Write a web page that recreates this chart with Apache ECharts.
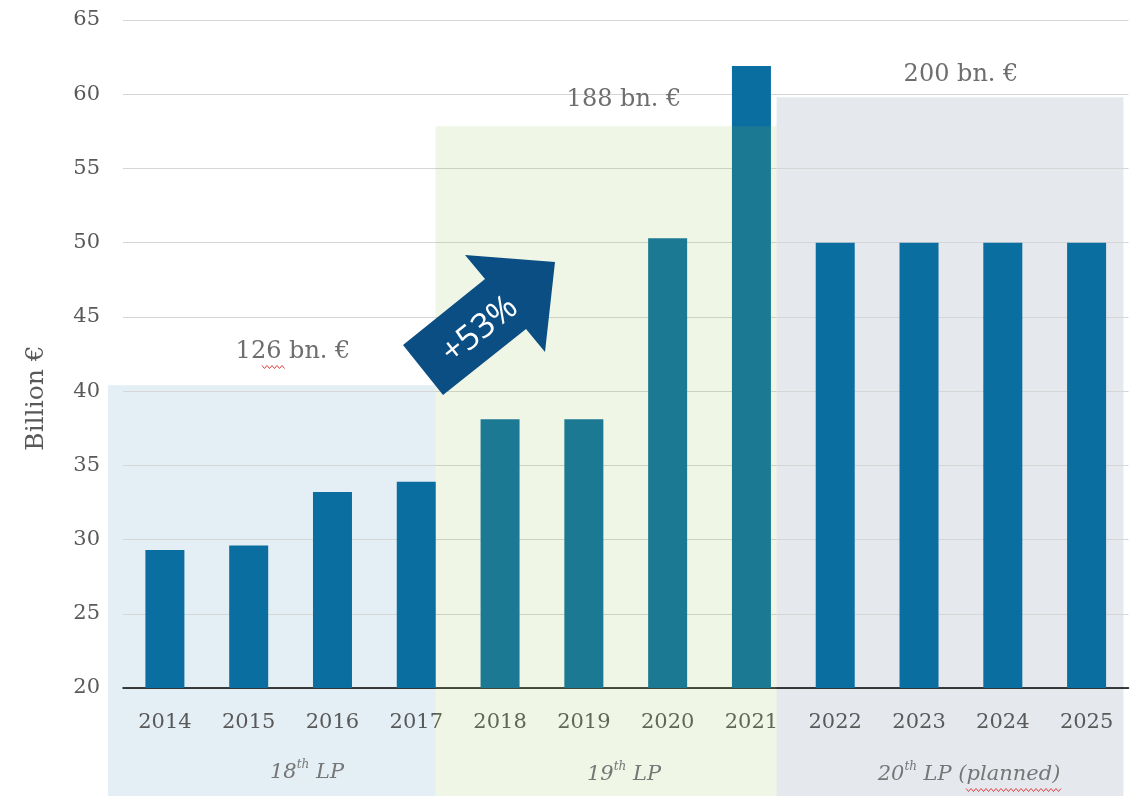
<!DOCTYPE html>
<html>
<head>
<meta charset="utf-8">
<script src="https://cdn.jsdelivr.net/npm/echarts@6/dist/echarts.min.js"></script>
<style>
html,body{margin:0;padding:0;background:#fff;}
#c{width:1133px;height:798px;}
</style>
</head>
<body>
<div id="c"></div>
<script>
// ---- data ----
const years = ['2014','2015','2016','2017','2018','2019','2020','2021','2022','2023','2024','2025'];
const values = [29.3, 29.6, 33.2, 33.9, 38.1, 38.1, 50.3, 61.9, 50.0, 50.0, 50.0, 50.0];
const yMin = 20, yMax = 65, yInterval = 5;
const periodNames = ['18', '19', '20'];
const periodSuffix = [' LP', ' LP', ' LP (planned)'];
const periodTotals = ['126 bn. €', '188 bn. €', '200 bn. €'];
const periodTops = [40.4, 57.85, 59.8];
// period boundaries in category-index units (fractional)
const periodEdges = [-0.68, 3.23, 7.3, 11.44];
const growthLabel = '+53%';
const yName = 'Billion €';

const FONT = 'DejaVu Serif';
const chart = echarts.init(document.getElementById('c'), null, {renderer: 'canvas'});

chart.setOption({
  animation: false,
  backgroundColor: '#ffffff',
  grid: {left: 123, right: 4.5, top: 20, bottom: 110, containLabel: false, outerBoundsMode: 'none'},
  xAxis: {
    type: 'category',
    data: years,
    axisLine: {lineStyle: {color: '#000', width: 1.5}},
    axisTick: {show: false},
    axisLabel: {fontFamily: FONT, fontSize: 21, color: '#595959', margin: 24}
  },
  yAxis: {
    type: 'value',
    min: yMin, max: yMax, interval: yInterval,
    axisLine: {show: false},
    axisTick: {show: false},
    splitLine: {lineStyle: {color: '#d6d6d6', width: 1}},
    axisLabel: {fontFamily: FONT, fontSize: 21, color: '#595959', margin: 23}
  },
  series: [{
    type: 'bar',
    data: values,
    barWidth: 39,
    itemStyle: {color: '#0a6ea0'},
    z: 2
  }]
});

function wavy(x0, x1, y) {
  const pts = [];
  let up = true;
  for (let x = x0; x <= x1; x += 2.5) { pts.push([x, up ? y - 1.5 : y + 1.5]); up = !up; }
  return pts;
}

function draw() {
  const x0 = chart.convertToPixel({xAxisIndex: 0}, years[0]);
  const x1 = chart.convertToPixel({xAxisIndex: 0}, years[1]);
  const step = x1 - x0;
  const px = i => x0 + i * step;
  const py = v => chart.convertToPixel({yAxisIndex: 0}, v);
  const H = chart.getHeight();

  const fills = ['#e4eef5', 'rgba(140,190,76,0.14)', '#e5e9ee'];
  const zs = [-10, 10, -10];
  const els = [];
  for (let k = 0; k < 3; k++) {
    const l = px(periodEdges[k]), r = px(periodEdges[k + 1]);
    const t = py(periodTops[k]);
    els.push({
      type: 'rect', z: zs[k], silent: true,
      shape: {x: l, y: t, width: r - l, height: H - t - 2},
      style: {fill: fills[k]}
    });
  }
  // totals labels
  const totalPos = [[293, 352], [624, 100], [961, 75]];
  for (let k = 0; k < 3; k++) {
    els.push({
      type: 'text', z: 20, x: totalPos[k][0], y: totalPos[k][1],
      style: {text: periodTotals[k], fontFamily: FONT, fontSize: 24, fill: '#6e6e6e', align: 'center', verticalAlign: 'middle'}
    });
  }
  // period labels
  const lpPos = [[307, 771], [624, 773], [969, 773]];
  for (let k = 0; k < 3; k++) {
    els.push({
      type: 'text', z: 20, x: lpPos[k][0], y: lpPos[k][1],
      style: {
        text: '{a|' + periodNames[k] + '}{s|th}{a|' + periodSuffix[k] + '}',
        align: 'center', verticalAlign: 'middle', fill: '#767676',
        rich: {
          a: {fontFamily: FONT, fontStyle: 'italic', fontSize: 21, fill: '#767676', verticalAlign: 'bottom', lineHeight: 24},
          s: {fontFamily: FONT, fontStyle: 'italic', fontSize: 12, fill: '#767676', verticalAlign: 'top', lineHeight: 24, padding: [0, 0, 12, 0]}
        }
      }
    });
  }
  // spell-check squiggles
  els.push({type: 'polyline', z: 21, shape: {points: wavy(262, 286, 367)}, style: {stroke: '#e04040', lineWidth: 1, fill: null}});
  els.push({type: 'polyline', z: 21, shape: {points: wavy(966, 1062, 790)}, style: {stroke: '#e04040', lineWidth: 1, fill: null}});
  // y-axis name
  els.push({
    type: 'text', z: 20, x: 36, y: 398, rotation: Math.PI / 2,
    style: {text: yName, fontFamily: FONT, fontSize: 25, fill: '#595959', align: 'center', verticalAlign: 'middle'}
  });
  // growth arrow
  els.push({
    type: 'polygon', z: 30,
    shape: {points: [[403, 345], [485, 279], [465, 255], [555, 262], [545, 352], [526, 329], [443, 395]]},
    style: {fill: '#0b4e84'}
  });
  els.push({
    type: 'text', z: 31, x: 480, y: 330, rotation: 38.5 * Math.PI / 180,
    style: {text: growthLabel, fontFamily: 'Open Sans', fontSize: 34, fill: '#ffffff', align: 'center', verticalAlign: 'middle'}
  });
  chart.setOption({graphic: {elements: els}});
}
draw();
</script>
</body>
</html>
